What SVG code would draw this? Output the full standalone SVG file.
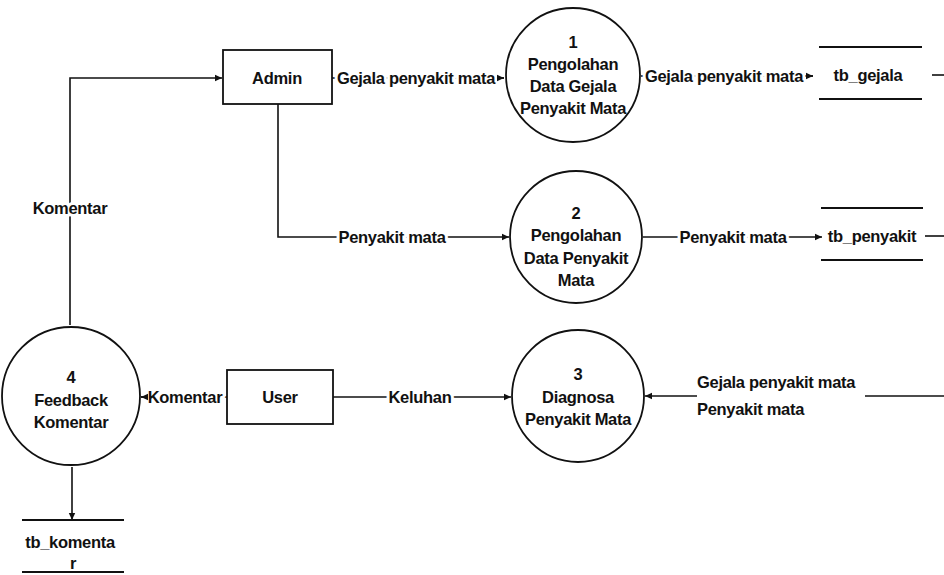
<svg xmlns="http://www.w3.org/2000/svg" width="944" height="575" viewBox="0 0 944 575">
<style>
text{font-family:"Liberation Sans",Arial,sans-serif;font-size:16.5px;font-weight:bold;fill:#111;text-anchor:middle;dominant-baseline:central;letter-spacing:-0.3px}
.lbl{paint-order:stroke;stroke:#fff;stroke-width:6px;stroke-linejoin:round}
.ln{stroke:#111;stroke-width:1.6;fill:none}
.nd{stroke:#111;stroke-width:1.8;fill:#fff}
.st{stroke:#111;stroke-width:1.8}
</style>
<defs>
<marker id="ah" markerWidth="8" markerHeight="8" refX="7" refY="4" orient="auto" markerUnits="userSpaceOnUse">
<path d="M0,0.8 L7,4 L0,7.2 Z" fill="#111"/>
</marker>
</defs>
<g id="connectors">
<path class="ln" d="M70,325 V78 H222" marker-end="url(#ah)"/>
<path class="ln" d="M332,78 H504"/>
<path class="ln" d="M278,104 V237 H509" marker-end="url(#ah)"/>
<path class="ln" d="M641,76 H813"/>
<path class="ln" d="M932,75 H944"/>
<path class="ln" d="M643,237 H822" marker-end="url(#ah)"/>
<path class="ln" d="M925,236 H944"/>
<path class="ln" d="M227,397 H141"/>
<path class="ln" d="M333,397 H511" marker-end="url(#ah)"/>
<path class="ln" d="M697,396 H645" marker-end="url(#ah)"/>
<path class="ln" d="M865,396 H944"/>
<path class="ln" d="M72,467 V520" marker-end="url(#ah)"/>
<text class="lbl" x="70" y="208">Komentar</text>
<text class="lbl" x="416" y="78">Gejala penyakit mata</text>
<text class="lbl" x="392" y="237">Penyakit mata</text>
<text class="lbl" x="724" y="76">Gejala penyakit mata</text>
<text class="lbl" x="733" y="237">Penyakit mata</text>
<text class="lbl" x="185" y="397">Komentar</text>
<text class="lbl" x="420" y="397">Keluhan</text>
<text x="697" y="382" style="text-anchor:start">Gejala penyakit mata</text>
<text x="697" y="409" style="text-anchor:start">Penyakit mata</text>
<path class="ln" d="M498,78 H504" marker-end="url(#ah)"/>
<path class="ln" d="M807,76 H813" marker-end="url(#ah)"/>
<path class="ln" d="M147,397 H141" marker-end="url(#ah)"/>
</g>
<g id="admin">
<rect class="nd" x="223" y="50" width="109" height="54"/>
<text x="277" y="78">Admin</text>
</g>
<g id="user">
<rect class="nd" x="227" y="370" width="106" height="54"/>
<text x="280" y="397">User</text>
</g>
<g id="p1">
<circle class="nd" cx="573" cy="75" r="67"/>
<text x="573" y="42">1</text>
<text x="573" y="64">Pengolahan</text>
<text x="573" y="86">Data Gejala</text>
<text x="573" y="108">Penyakit Mata</text>
</g>
<g id="p2">
<circle class="nd" cx="576" cy="237" r="66"/>
<text x="576" y="213">2</text>
<text x="576" y="235">Pengolahan</text>
<text x="576" y="258">Data Penyakit</text>
<text x="576" y="280">Mata</text>
</g>
<g id="p3">
<circle class="nd" cx="578" cy="396" r="66"/>
<text x="578" y="374">3</text>
<text x="578" y="397">Diagnosa</text>
<text x="578" y="419">Penyakit Mata</text>
</g>
<g id="p4">
<circle class="nd" cx="71" cy="396" r="69"/>
<text x="71" y="377">4</text>
<text x="71" y="400">Feedback</text>
<text x="71" y="422">Komentar</text>
</g>
<g id="tb_gejala">
<line class="st" x1="819" y1="47" x2="922" y2="47"/>
<line class="st" x1="819" y1="99" x2="922" y2="99"/>
<text x="868" y="75">tb_gejala</text>
</g>
<g id="tb_penyakit">
<line class="st" x1="821" y1="208" x2="923" y2="208"/>
<line class="st" x1="821" y1="260" x2="923" y2="260"/>
<text x="872" y="236">tb_penyakit</text>
</g>
<g id="tb_komentar">
<line class="st" x1="22" y1="520" x2="124" y2="520"/>
<line class="st" x1="22" y1="572" x2="124" y2="572"/>
<text x="70" y="542">tb_komenta</text>
<text x="73" y="563">r</text>
</g>
</svg>
